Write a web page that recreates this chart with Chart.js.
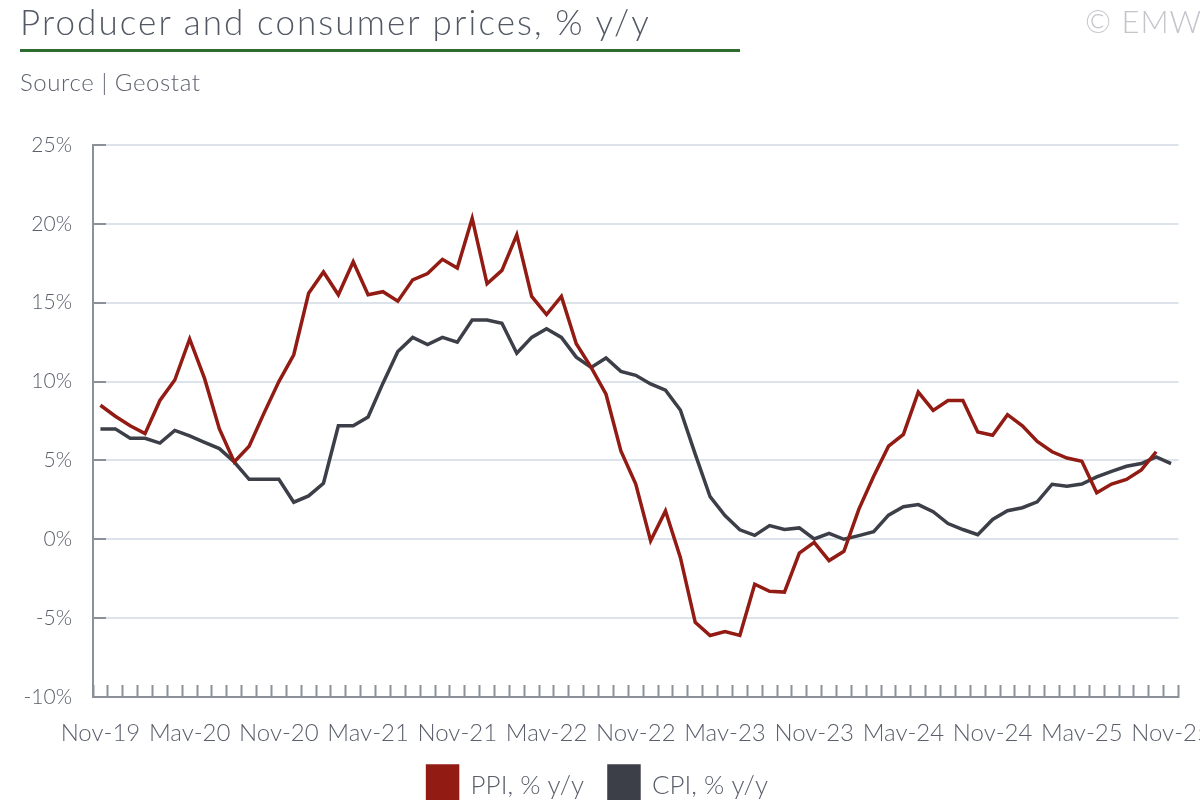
<!DOCTYPE html>
<html>
<head>
<meta charset="utf-8">
<script src="https://cdn.jsdelivr.net/npm/chart.js@4.4.1/dist/chart.umd.min.js"></script>
<style>
  html, body { margin: 0; padding: 0; background: #fff; width: 1200px; height: 800px; overflow: hidden; }
  body { position: relative; font-family: Lato, "Open Sans", sans-serif; color: #595e6a; }
  .txt { position: absolute; white-space: nowrap; will-change: transform; }
  #title { left: 20px; top: 0px; font-size: 35px; font-weight: 300; letter-spacing: 2.1px; color: #525864; }
  #rule { position: absolute; left: 20px; top: 49px; width: 720px; height: 3px; background: #2e6b30; }
  #source { left: 20px; top: 67px; font-size: 24px; font-weight: 300; letter-spacing: 0.6px; color: #5d626d; }
  #copy { left: 1085px; top: 2px; font-size: 31px; font-weight: 300; letter-spacing: 1px; color: #c3c5cb; }
  #wrap { position: absolute; left: 0; top: 0; width: 1200px; height: 816px; }
</style>
</head>
<body>
<div id="title" class="txt">Producer and consumer prices, % y/y</div>
<div id="rule"></div>
<div id="source" class="txt">Source | Geostat</div>
<div id="copy" class="txt">© EMW</div>
<div id="wrap"><canvas id="pricesChart"></canvas></div>

<script>
// monthly, Nov-19 .. Nov-25
const months = [
  "Nov-19", "Dec-19", "Jan-20", "Feb-20", "Mar-20", "Apr-20", "May-20", "Jun-20", "Jul-20", "Aug-20", "Sep-20", "Oct-20",
  "Nov-20", "Dec-20", "Jan-21", "Feb-21", "Mar-21", "Apr-21", "May-21", "Jun-21", "Jul-21", "Aug-21", "Sep-21", "Oct-21",
  "Nov-21", "Dec-21", "Jan-22", "Feb-22", "Mar-22", "Apr-22", "May-22", "Jun-22", "Jul-22", "Aug-22", "Sep-22", "Oct-22",
  "Nov-22", "Dec-22", "Jan-23", "Feb-23", "Mar-23", "Apr-23", "May-23", "Jun-23", "Jul-23", "Aug-23", "Sep-23", "Oct-23",
  "Nov-23", "Dec-23", "Jan-24", "Feb-24", "Mar-24", "Apr-24", "May-24", "Jun-24", "Jul-24", "Aug-24", "Sep-24", "Oct-24",
  "Nov-24", "Dec-24", "Jan-25", "Feb-25", "Mar-25", "Apr-25", "May-25", "Jun-25", "Jul-25", "Aug-25", "Sep-25", "Oct-25",
  "Nov-25"
];

const ppi = [
  8.5, 7.8, 7.2, 6.7, 8.8, 10.1, 12.7, 10.2, 7.0, 4.9, 5.9, 8.0,
  10.0, 11.7, 15.6, 16.95, 15.5, 17.6, 15.5, 15.7, 15.1, 16.45, 16.85, 17.75,
  17.2, 20.35, 16.2, 17.05, 19.3, 15.4, 14.25, 15.4, 12.4, 10.9, 9.2, 5.6,
  3.5, -0.1, 1.8, -1.15, -5.27, -6.1, -5.85, -6.1, -2.85, -3.3, -3.35, -0.87,
  -0.2, -1.35, -0.76, 1.9, 4.0, 5.9, 6.65, 9.33, 8.17, 8.8, 8.8, 6.8,
  6.6, 7.9, 7.2, 6.2, 5.55, 5.15, 4.95, 2.95, 3.5, 3.8, 4.4, 5.55,
  null
];

const cpi = [
  7.0, 7.0, 6.4, 6.4, 6.1, 6.9, 6.55, 6.15, 5.75, 4.9, 3.8, 3.8,
  3.8, 2.35, 2.75, 3.55, 7.2, 7.2, 7.75, 9.9, 11.9, 12.8, 12.35, 12.8,
  12.5, 13.9, 13.9, 13.7, 11.8, 12.8, 13.35, 12.8, 11.55, 10.9, 11.5, 10.65,
  10.4, 9.85, 9.45, 8.2, 5.4, 2.7, 1.5, 0.6, 0.25, 0.87, 0.62, 0.72,
  0.02, 0.38, 0.0, 0.23, 0.48, 1.53, 2.06, 2.2, 1.75, 1.0, 0.62, 0.29,
  1.26, 1.81, 2.0, 2.37, 3.49, 3.37, 3.5, 3.96, 4.31, 4.63, 4.8, 5.22,
  4.8
];

const seriesNames = ["PPI, % y/y", "CPI, % y/y"];
const yMin = -10, yMax = 25, yStep = 5;
const labelEvery = 6;

const axisGrey = "#8b9099";
const textGrey = "#5a5f6b";

const ctx = document.getElementById("pricesChart").getContext("2d");

new Chart(ctx, {
  type: "line",
  data: {
    labels: months,
    datasets: [
      {
        label: seriesNames[0],
        data: ppi,
        borderColor: "#921c14",
        backgroundColor: "#921c14",
        borderWidth: 3.5,
        pointRadius: 0,
        tension: 0,
        spanGaps: false
      },
      {
        label: seriesNames[1],
        data: cpi,
        borderColor: "#3c3f48",
        backgroundColor: "#3c3f48",
        borderWidth: 3.5,
        pointRadius: 0,
        tension: 0
      }
    ]
  },
  options: {
    responsive: true,
    maintainAspectRatio: false,
    animation: false,
    layout: {
      padding: { top: 145, left: 17, right: 21.5, bottom: 0 }
    },
    plugins: {
      tooltip: { enabled: false },
      legend: {
        position: "bottom",
        labels: {
          boxWidth: 30,
          boxHeight: 40,
          padding: 25,
          color: textGrey,
          font: { family: "Lato", size: 26, weight: "300" }
        }
      }
    },
    scales: {
      x: {
        offset: true,
        grid: {
          offset: true,
          drawOnChartArea: false,
          drawTicks: true,
          tickLength: -12,
          tickColor: axisGrey,
          tickWidth: 2
        },
        border: { display: true, color: axisGrey, width: 2 },
        ticks: {
          autoSkip: false,
          maxRotation: 0,
          minRotation: 0,
          padding: 34,
          color: textGrey,
          font: { family: "Lato", size: 24, weight: "300" },
          callback: (value, i) => (i % labelEvery === 0 ? months[i] : "")
        },
        afterFit: scale => {
          scale.height = 44;
          scale.paddingLeft = 0;
          scale.paddingRight = 0;
        }
      },
      y: {
        min: yMin,
        max: yMax,
        grid: {
          color: "#dde3ea",
          lineWidth: 2,
          drawTicks: true,
          tickLength: -13,
          tickColor: axisGrey,
          tickWidth: 2
        },
        border: { display: true, color: axisGrey, width: 2 },
        ticks: {
          stepSize: yStep,
          padding: 34,
          color: textGrey,
          font: { family: "Lato", size: 21, weight: "300" },
          callback: value => value + "%"
        },
        afterFit: scale => {
          scale.width = 76;
          scale.paddingTop = 0;
          scale.paddingBottom = 0;
        }
      }
    }
  }
});
</script>
</body>
</html>
